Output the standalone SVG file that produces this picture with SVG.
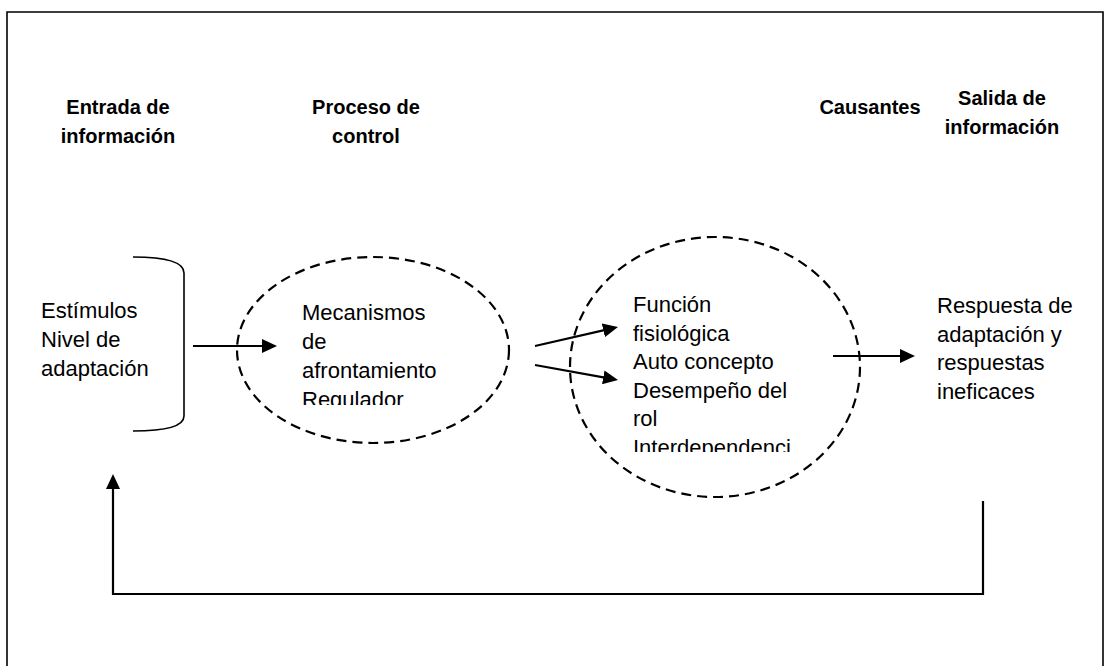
<svg xmlns="http://www.w3.org/2000/svg" width="1107" height="666" viewBox="0 0 1107 666">
<style>
.hdr{font-family:"Liberation Sans",Arial,sans-serif;font-weight:bold;font-size:20px;fill:#000;text-anchor:middle}
.txt{font-family:"Liberation Sans",Arial,sans-serif;font-size:22px;fill:#000}
.dash{fill:none;stroke:#000;stroke-width:2.2;stroke-dasharray:10 6}
.ln{fill:none;stroke:#000;stroke-width:2.2}
.thin{fill:none;stroke:#000;stroke-width:1.6}
</style>
<defs>
<marker id="ah" viewBox="0 0 15 14" refX="10" refY="7" markerWidth="15" markerHeight="14" markerUnits="userSpaceOnUse" orient="auto">
<path d="M0,0 L15,7 L0,14 z" fill="#000"/>
</marker>
<clipPath id="clip1"><rect x="290" y="290" width="220" height="115"/></clipPath>
<clipPath id="clip2"><rect x="620" y="285" width="230" height="167"/></clipPath>
</defs>
<rect width="1107" height="666" fill="#fff"/>
<g id="frame">
<path d="M7,700 L7,12 L1103,12 L1103,700" fill="none" stroke="#000" stroke-width="1.6"/>
</g>
<g id="h-entrada">
<text class="hdr" x="118" y="114">Entrada de</text>
<text class="hdr" x="118" y="143">información</text>
</g>
<g id="h-proceso">
<text class="hdr" x="366" y="114">Proceso de</text>
<text class="hdr" x="366" y="143">control</text>
</g>
<g id="h-causantes">
<text class="hdr" x="870" y="114">Causantes</text>
</g>
<g id="h-salida">
<text class="hdr" x="1002" y="105">Salida de</text>
<text class="hdr" x="1002" y="134">información</text>
</g>
<g id="n-estimulos">
<path class="thin" d="M133,257 C168,257 184,263 184,273 L184,416 C184,426 168,431 133,431"/>
<text class="txt" x="41" y="318">Estímulos</text>
<text class="txt" x="41" y="347">Nivel de</text>
<text class="txt" x="41" y="376">adaptación</text>
</g>
<g id="n-mecanismos">
<ellipse class="dash" cx="373" cy="350" rx="136" ry="93"/>
<g clip-path="url(#clip1)">
<text class="txt" x="302" y="320">Mecanismos</text>
<text class="txt" x="302" y="349">de</text>
<text class="txt" x="302" y="378">afrontamiento</text>
<text class="txt" x="302" y="407">Regulador</text>
</g>
</g>
<g id="n-causantes">
<ellipse class="dash" cx="715" cy="367" rx="145" ry="130"/>
<g clip-path="url(#clip2)">
<text class="txt" x="633" y="312">Función</text>
<text class="txt" x="633" y="340.5">fisiológica</text>
<text class="txt" x="633" y="369">Auto concepto</text>
<text class="txt" x="633" y="397.5">Desempeño del</text>
<text class="txt" x="633" y="426">rol</text>
<text class="txt" x="633" y="454.5">Interdependenci</text>
</g>
</g>
<g id="n-respuesta">
<text class="txt" x="937" y="313">Respuesta de</text>
<text class="txt" x="937" y="341.5">adaptación y</text>
<text class="txt" x="937" y="370">respuestas</text>
<text class="txt" x="937" y="398.5">ineficaces</text>
</g>
<g id="connectors">
<line class="ln" x1="193" y1="346" x2="272" y2="346" marker-end="url(#ah)"/>
<line class="ln" x1="535" y1="346" x2="613.1" y2="328.1" marker-end="url(#ah)"/>
<line class="ln" x1="535" y1="365" x2="613.1" y2="379.1" marker-end="url(#ah)"/>
<line class="ln" x1="833" y1="356" x2="910" y2="356" marker-end="url(#ah)"/>
<path class="ln" d="M983,501 L983,594 L113,594 L113,479" marker-end="url(#ah)"/>
</g>
</svg>
